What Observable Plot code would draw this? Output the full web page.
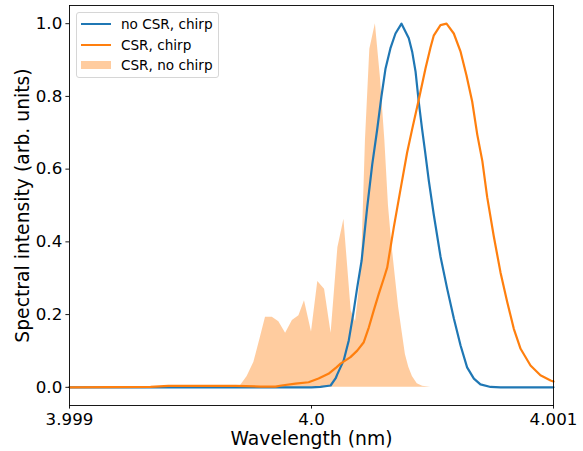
<!DOCTYPE html>
<html>
<head>
<meta charset="utf-8">
<script src="https://cdn.jsdelivr.net/npm/d3@7"></script>
<script src="https://cdn.jsdelivr.net/npm/@observablehq/plot@0.6"></script>
<style>
  html, body { margin: 0; padding: 0; background: #fff; }
  #wrap { position: relative; width: 583px; height: 451px; font-family: "DejaVu Sans", sans-serif; }
  #legend { position: absolute; left: 76px; top: 12px; width: 141px; height: 64px;
    border: 1px solid #d6d6d6; border-radius: 3px; background: rgba(255,255,255,0.85);
    font-family: "DejaVu Sans", sans-serif; font-size: 13.6px; color: #000; }
  .row { position: absolute; left: 0; height: 20px; width: 140px; }
  .sw { position: absolute; left: 4px; width: 30px; }
  .lab { position: absolute; left: 44px; top: 0; line-height: 20px; white-space: nowrap; }
</style>
</head>
<body>
<div id="wrap"></div>
<script>
// ---- data ----
const seriesNames = ["no CSR, chirp", "CSR, chirp", "CSR, no chirp"];
const seriesColors = ["#1f77b4", "#ff7f0e", "#ff7f0e"];

const blueX = [3.999, 3.9996, 4.0, 4.000037, 4.000079, 4.0001, 4.000106, 4.000133, 4.000154, 4.000172, 4.000189, 4.000207, 4.00023, 4.000251, 4.000271, 4.000289, 4.000306, 4.000326, 4.000347, 4.000372, 4.000402, 4.000416, 4.00043, 4.000443, 4.000457, 4.000469, 4.000485, 4.000505, 4.000533, 4.000561, 4.000588, 4.000616, 4.000643, 4.000671, 4.000698, 4.00074, 4.000781, 4.001];
const blueY = [0, 0, 0, 0.001, 0.005, 0.025, 0.035, 0.074, 0.129, 0.2, 0.275, 0.348, 0.494, 0.613, 0.707, 0.8, 0.877, 0.932, 0.973, 1.0, 0.96, 0.923, 0.868, 0.786, 0.71, 0.65, 0.567, 0.476, 0.36, 0.27, 0.19, 0.115, 0.055, 0.024, 0.008, 0.001, 0, 0];

const orangeX = [3.999, 3.999335, 3.999409, 3.999686, 3.999789, 3.999851, 3.999876, 3.999934, 3.999988, 4.000029, 4.00007, 4.000103, 4.00012, 4.000161, 4.000189, 4.000216, 4.000237, 4.000257, 4.000278, 4.000299, 4.000313, 4.00034, 4.000368, 4.000395, 4.000416, 4.000443, 4.000471, 4.000492, 4.000505, 4.000533, 4.000558, 4.000588, 4.000616, 4.00064, 4.000664, 4.000685, 4.000706, 4.000726, 4.000753, 4.000781, 4.000809, 4.000836, 4.000864, 4.000905, 4.000946, 4.000988, 4.001];
const orangeY = [0, 0.001, 0.004, 0.004, 0.002, 0.002, 0.005, 0.01, 0.014, 0.024, 0.037, 0.055, 0.065, 0.083, 0.101, 0.124, 0.165, 0.211, 0.257, 0.3, 0.33, 0.44, 0.545, 0.645, 0.71, 0.79, 0.877, 0.935, 0.967, 0.996, 1.0, 0.973, 0.923, 0.859, 0.786, 0.695, 0.622, 0.523, 0.416, 0.316, 0.234, 0.161, 0.106, 0.06, 0.033, 0.019, 0.016];

const fillX = [3.999, 3.999665, 3.999707, 3.999734, 3.999762, 3.999789, 3.99981, 3.999838, 3.999865, 3.999893, 3.999921, 3.999948, 3.999971, 4.0, 4.000026, 4.000054, 4.000081, 4.000109, 4.000134, 4.000164, 4.000182, 4.000194, 4.000207, 4.000223, 4.000241, 4.000264, 4.000285, 4.000303, 4.000318, 4.000331, 4.000347, 4.00036, 4.000375, 4.000388, 4.000402, 4.000417, 4.000437, 4.000459, 4.000492, 4.001];
const fillY = [0, 0, 0.005, 0.03, 0.069, 0.138, 0.193, 0.193, 0.18, 0.149, 0.184, 0.197, 0.238, 0.152, 0.291, 0.27, 0.149, 0.384, 0.462, 0.21, 0.18, 0.25, 0.34, 0.68, 0.93, 1.0, 0.85, 0.68, 0.5, 0.4, 0.3, 0.22, 0.15, 0.09, 0.055, 0.03, 0.01, 0.003, 0, 0];

const xTicks = [3.999, 4.0, 4.001];
const xTickLabels = ["3.999", "4.0", "4.001"];
const yTicks = [0, 0.2, 0.4, 0.6, 0.8, 1.0];
const yTickLabels = ["0.0", "0.2", "0.4", "0.6", "0.8", "1.0"];
const xLabel = "Wavelength (nm)";
const yLabel = "Spectral intensity (arb. units)";

// ---- build tables ----
const blue = blueX.map((x, i) => ({x, y: blueY[i]}));
const orange = orangeX.map((x, i) => ({x, y: orangeY[i]}));
const fill = fillX.map((x, i) => ({x, y: fillY[i]}));

const plot = Plot.plot({
  width: 583,
  height: 451,
  marginLeft: 69,
  marginRight: 30,
  marginTop: 5,
  marginBottom: 46,
  style: {fontFamily: "DejaVu Sans, sans-serif", fontSize: "16.7px", color: "#000", background: "#fff"},
  x: {domain: [3.999, 4.001]},
  y: {domain: [-0.05, 1.05]},
  marks: [
    Plot.areaY(fill, {x: "x", y: "y", fill: seriesColors[2], fillOpacity: 0.4}),
    Plot.line(blue, {x: "x", y: "y", stroke: seriesColors[0], strokeWidth: 2.2}),
    Plot.line(orange, {x: "x", y: "y", stroke: seriesColors[1], strokeWidth: 2.2}),
    Plot.frame({stroke: "#000", strokeWidth: 0.9}),
    Plot.axisX({ticks: xTicks, tickFormat: (d) => xTickLabels[xTicks.indexOf(d)], tickSize: 3.6, tickPadding: 3.6, label: null, stroke: "#000", strokeWidth: 0.9, fontSize: 16.7}),
    Plot.axisY({ticks: yTicks, tickFormat: (d) => yTickLabels[yTicks.indexOf(d)], tickSize: 3.6, tickPadding: 3.6, label: null, stroke: "#000", strokeWidth: 0.9, fontSize: 16.7}),
    Plot.text([xLabel], {frameAnchor: "bottom", dy: 33, textAnchor: "middle", lineAnchor: "middle", fontSize: 18.75, fill: "#000"}),
    Plot.text([yLabel], {frameAnchor: "left", dx: -47, rotate: -90, textAnchor: "middle", lineAnchor: "middle", fontSize: 18.75, fill: "#000"})
  ]
});

const wrap = document.getElementById("wrap");
wrap.appendChild(plot);

// legend (real text, overlaid inside the axes)
const legend = document.createElement("div");
legend.id = "legend";
const rowTops = [1, 21.5, 42];
seriesNames.forEach((name, i) => {
  const row = document.createElement("div");
  row.className = "row";
  row.style.top = rowTops[i] + "px";
  const sw = document.createElement("div");
  sw.className = "sw";
  if (i < 2) {
    sw.style.top = "9px";
    sw.style.height = "2.2px";
    sw.style.background = seriesColors[i];
  } else {
    sw.style.top = "5.5px";
    sw.style.height = "8.5px";
    sw.style.background = seriesColors[i];
    sw.style.opacity = "0.4";
  }
  const lab = document.createElement("div");
  lab.className = "lab";
  lab.textContent = name;
  row.appendChild(sw);
  row.appendChild(lab);
  legend.appendChild(row);
});
wrap.appendChild(legend);
</script>
</body>
</html>
